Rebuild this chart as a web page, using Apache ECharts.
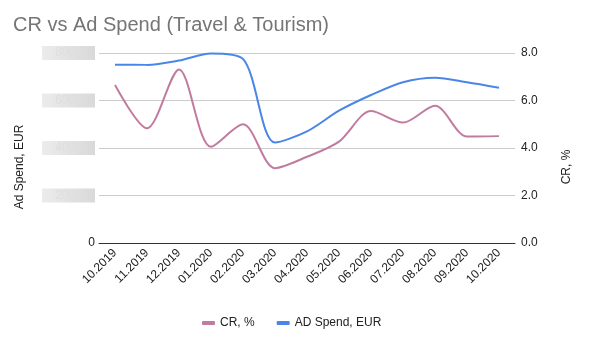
<!DOCTYPE html>
<html>
<head>
<meta charset="utf-8">
<script src="https://cdn.jsdelivr.net/npm/echarts@6/dist/echarts.min.js"></script>
<style>
  html, body { margin: 0; padding: 0; background: #fff; }
  #chart { width: 590px; height: 353px; }
</style>
</head>
<body>
<div id="chart"></div>
<script>
// 数据
var months = ['10.2019', '11.2019', '12.2019', '01.2020', '02.2020', '03.2020', '04.2020',
    '05.2020', '06.2020', '07.2020', '08.2020', '09.2020', '10.2020'];
var crValues = [6.65, 4.83, 7.31, 4.05, 5.0, 3.15, 3.63, 4.27, 5.56, 5.07, 5.78, 4.48, 4.5];
var adSpend = [7510, 7500, 7680, 7980, 7750, 4230, 4700, 5570, 6230, 6770, 6960, 6770, 6540];
var seriesNames = ['CR, %', 'AD Spend, EUR'];

(function() {
    var font = 'Arial, "Liberation Sans", sans-serif';
    var myChart = echarts.init(document.getElementById('chart'));
    var option = {
        animation: false,
        textStyle: { fontFamily: font },
        title: {
            text: 'CR vs Ad Spend (Travel & Tourism)',
            left: 8,
            top: 10,
            textStyle: { fontFamily: font, fontSize: 20, fontWeight: 'normal', color: '#757575' }
        },
        legend: {
            top: 312,
            left: 197,
            itemWidth: 13,
            itemHeight: 4,
            itemGap: 22,
            icon: 'roundRect',
            textStyle: { fontFamily: font, fontSize: 12, color: '#222' },
            data: [seriesNames[0], seriesNames[1]]
        },
        grid: { left: 99, right: 75, top: 53, bottom: 110 },
        xAxis: {
            type: 'category',
            data: months,
            boundaryGap: true,
            axisLine: { lineStyle: { color: '#333', width: 1 } },
            axisTick: { show: false },
            axisLabel: { rotate: 45, fontSize: 12, color: '#222', margin: 8, interval: 0 }
        },
        yAxis: [
            {
                type: 'value',
                min: 0,
                max: 8000,
                interval: 2000,
                name: 'Ad Spend, EUR',
                nameLocation: 'middle',
                nameGap: 73,
                nameTextStyle: { fontSize: 12, color: '#222', padding: [0, 38, 0, 0] },
                axisLine: { show: false },
                axisTick: { show: false },
                splitLine: { lineStyle: { color: '#cccccc' } },
                axisLabel: {
                    margin: 4,
                    fontSize: 12,
                    color: '#222',
                    formatter: function(v) {
                        return v === 0 ? '0' : '{blur|' + v + '}';
                    },
                    rich: {
                        blur: {
                            width: 53,
                            height: 14,
                            align: 'center',
                            color: '#dedede',
                            backgroundColor: {
                                type: 'linear', x: 0, y: 0, x2: 1, y2: 0,
                                colorStops: [
                                    { offset: 0, color: '#ececec' },
                                    { offset: 0.5, color: '#e2e2e2' },
                                    { offset: 1, color: '#d9d9d9' }
                                ]
                            }
                        }
                    }
                }
            },
            {
                type: 'value',
                min: 0,
                max: 8,
                interval: 2,
                name: 'CR, %',
                nameLocation: 'middle',
                nameGap: 46,
                nameTextStyle: { fontSize: 12, color: '#222', padding: [0, 38, 0, 0] },
                axisLine: { show: false },
                axisTick: { show: false },
                splitLine: { show: false },
                axisLabel: {
                    margin: 6,
                    fontSize: 12,
                    color: '#222',
                    formatter: function(v) { return v.toFixed(1); }
                }
            }
        ],
        series: [
            {
                name: seriesNames[0],
                type: 'line',
                yAxisIndex: 1,
                data: crValues,
                smooth: 0.3,
                showSymbol: false,
                symbol: 'none',
                lineStyle: { color: '#c27ba0', width: 2 },
                itemStyle: { color: '#c27ba0' }
            },
            {
                name: seriesNames[1],
                type: 'line',
                yAxisIndex: 0,
                data: adSpend,
                smooth: 0.3,
                showSymbol: false,
                symbol: 'none',
                lineStyle: { color: '#4a86e8', width: 2 },
                itemStyle: { color: '#4a86e8' }
            }
        ]
    };
    myChart.setOption(option);
    window.addEventListener('resize', function() {
        myChart.resize();
    });
})();
</script>
</body>
</html>
